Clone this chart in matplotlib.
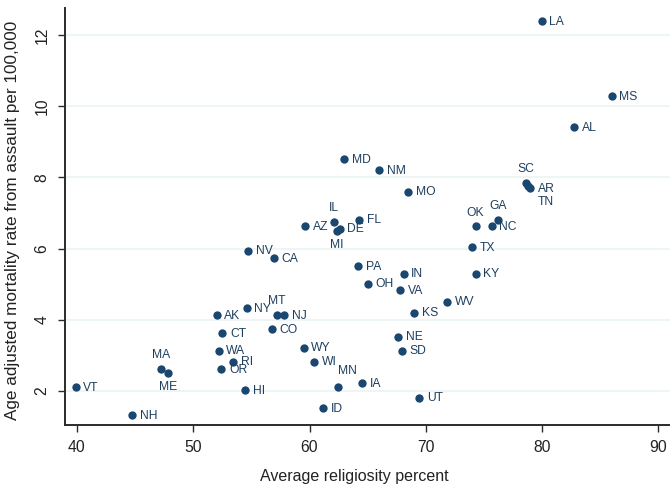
import matplotlib.pyplot as plt

plt.rcParams['font.family'] = ['Liberation Sans', 'DejaVu Sans']

# state, average religiosity percent, assault mortality per 100,000
states = ['LA', 'MS', 'AL', 'MD', 'NM', 'MO', 'SC', 'TN', 'AR', 'GA', 'OK', 'NC',
          'FL', 'TX', 'IL', 'DE', 'MI', 'AZ', 'NV', 'CA', 'PA', 'IN', 'OH', 'VA',
          'KY', 'WV', 'KS', 'NE', 'SD', 'IA', 'UT', 'MN', 'AK', 'NY', 'MT', 'NJ',
          'CO', 'CT', 'WA', 'RI', 'OR', 'HI', 'WY', 'WI', 'ID', 'VT', 'NH', 'MA', 'ME']
religiosity = [79.95, 85.97, 82.76, 62.96, 66.0, 68.49, 78.63, 78.8, 78.95, 76.2, 74.28, 75.65,
               64.25, 73.99, 62.13, 62.6, 62.35, 59.6, 54.7, 56.94, 64.19, 68.09, 64.99, 67.77,
               74.28, 71.84, 68.98, 67.63, 67.97, 64.53, 69.43, 62.44, 52.0, 54.59, 57.2, 57.8,
               56.77, 52.5, 52.18, 53.44, 52.41, 54.47, 59.49, 60.38, 61.15, 39.89, 44.73, 47.22, 47.82]
mortality = [12.40, 10.29, 9.42, 8.51, 8.20, 7.60, 7.84, 7.75, 7.69, 6.81, 6.62, 6.62,
             6.81, 6.04, 6.74, 6.56, 6.50, 6.62, 5.94, 5.72, 5.50, 5.29, 5.01, 4.83,
             5.29, 4.51, 4.20, 3.52, 3.13, 2.22, 1.81, 2.12, 4.13, 4.33, 4.13, 4.13,
             3.73, 3.62, 3.13, 2.82, 2.61, 2.02, 3.21, 2.82, 1.51, 2.11, 1.32, 2.61, 2.51]

# label clock positions (default 3 = right)
label_pos = {'SC': 12, 'TN': 4, 'GA': 12, 'OK': 12, 'IL': 12, 'MI': 6,
             'MT': 12, 'MN': 1, 'MA': 12, 'ME': 6}

navy = '#1a476f'

fig = plt.figure(figsize=(6.7, 4.87), dpi=100)
ax = fig.add_axes([65 / 670, 1 - 425 / 487, 1 - 65 / 670, (425 - 8) / 487])

ax.scatter(religiosity, mortality, s=36, color=navy, zorder=3, linewidths=0)

for st, x, y in zip(states, religiosity, mortality):
    pos = label_pos.get(st, 3)
    if pos == 3:
        off, ha = (5.5, -0.5), 'left'
    elif pos == 12:
        off, ha = (0, 10), 'center'
    elif pos == 6:
        off, ha = (0, -10), 'center'
    elif pos == 1:
        off, ha = (0, 11), 'left'
    else:
        off, ha = (7, -11), 'left'
    ax.annotate(st, (x, y), xytext=off, textcoords='offset points',
                ha=ha, va='center', fontsize=8.7, color='#1f3f5f', zorder=4)

ax.set_xlim(38.97, 91.0)
ax.set_ylim(1.04, 12.76)
ax.set_xticks([40, 50, 60, 70, 80, 90])
ax.set_yticks([2, 4, 6, 8, 10, 12])
ax.grid(axis='y', color='#eaf2f3', linewidth=1.1)
ax.set_axisbelow(True)

for side in ['top', 'right']:
    ax.spines[side].set_visible(False)
for side in ['left', 'bottom']:
    ax.spines[side].set_color('#2b2b2b')
    ax.spines[side].set_linewidth(1.4)

ax.tick_params(axis='both', colors='#2b2b2b', labelcolor='#222222', length=5,
               width=1, labelsize=11.3, pad=6)
ax.tick_params(axis='y', labelrotation=90)
for lab in ax.get_yticklabels():
    lab.set_va('center')

ax.set_xlabel('Average religiosity percent', fontsize=11.5, color='#222222')
ax.xaxis.set_label_coords(0.479, -0.105)
ax.set_ylabel('Age adjusted mortality rate from assault per 100,000', fontsize=12.3,
              color='#222222')
ax.yaxis.set_label_coords(-0.075, 0.49)

fig.savefig('out.png', dpi=100)
